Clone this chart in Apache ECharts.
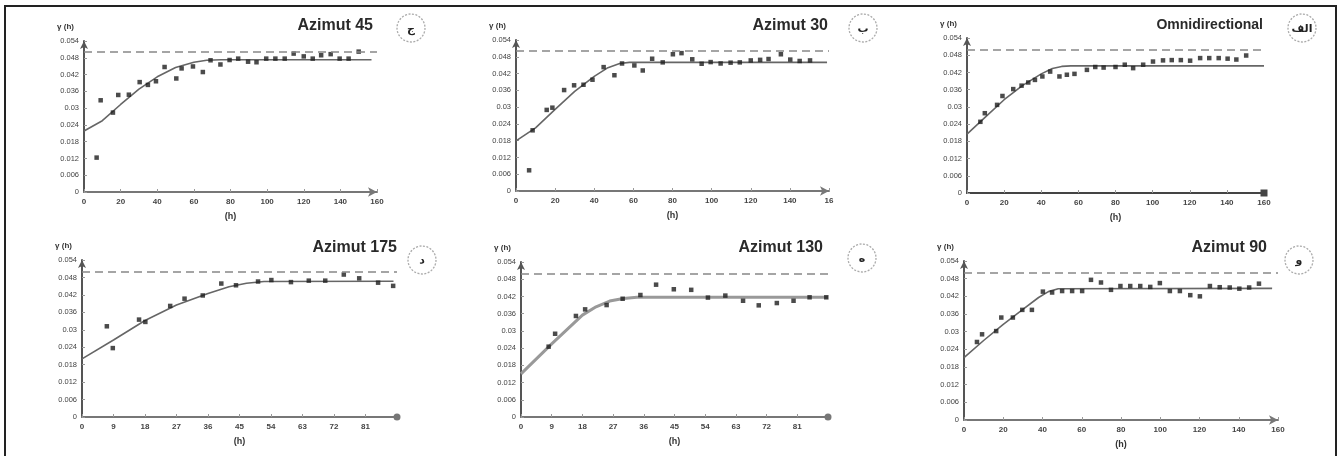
<!DOCTYPE html>
<html><head><meta charset="utf-8">
<script src="https://cdn.jsdelivr.net/npm/echarts@6/dist/echarts.min.js"></script>
<style>html,body{margin:0;padding:0;background:#fff}#c{width:1339px;height:456px}</style>
</head><body><div id="c"></div>
<script>
// ---------- DATA ----------
const panelTitles = ['Azimut 45', 'Azimut 30', 'Omnidirectional', 'Azimut 175', 'Azimut 130', 'Azimut 90'];
const panelLetters = ['ج', 'ب', 'الف', 'د', 'ه', 'و'];
const sillValue = 0.054;
const yTickStep = 0.006;
const xMaxes = [160, 160, 160, 90, 90, 160];
const xSteps = [20, 20, 20, 9, 9, 20];
const xLabelsAz45 = ['0', '20', '40', '60', '80', '100', '120', '140', '160'];
const xLabelsAz30 = ['0', '20', '40', '60', '80', '100', '120', '140', '16'];
const xLabelsOmni = ['0', '20', '40', '60', '80', '100', '120', '140', '160'];
const xLabelsAz175 = ['0', '9', '18', '27', '36', '45', '54', '63', '72', '81', ''];
const xLabelsAz130 = ['0', '9', '18', '27', '36', '45', '54', '63', '72', '81', ''];
const xLabelsAz90 = ['0', '20', '40', '60', '80', '100', '120', '140', '160'];
const yAxisName = 'γ (h)';
const xAxisName = '(h)';

// experimental variogram points [lag h, gamma]
const pointsAz45 = [[6.9,0.0123],[9.1,0.0328],[15.8,0.0284],[18.7,0.0347],[24.5,0.0348],[30.4,0.0393],[34.9,0.0383],[39.3,0.0396],[44,0.0447],[50.4,0.0406],[53.3,0.0442],[59.5,0.0449],[64.9,0.0429],[69.1,0.0471],[74.5,0.0456],[79.5,0.0472],[84.2,0.0477],[89.6,0.0466],[94.2,0.0464],[99.5,0.0477],[104.5,0.0477],[109.6,0.0477],[114.5,0.0495],[120,0.0485],[124.9,0.0477],[129.5,0.0489],[134.7,0.0493],[139.6,0.0477],[144.5,0.0477],[150,0.0502]];
const pointsAz30 = [[6.7,0.0074],[8.5,0.0217],[15.7,0.029],[18.6,0.0298],[24.6,0.0361],[29.7,0.0378],[34.5,0.038],[39.1,0.0398],[44.8,0.0443],[50.3,0.0414],[54.2,0.0456],[60.5,0.0449],[64.8,0.0431],[69.6,0.0473],[75,0.046],[80.2,0.0489],[84.6,0.0493],[90.1,0.0471],[94.9,0.0455],[99.5,0.0461],[104.6,0.0456],[109.7,0.0459],[114.4,0.046],[120,0.0467],[124.8,0.0469],[129.1,0.0472],[135.4,0.0489],[140.2,0.047],[145,0.0465],[150.3,0.0467]];
const pointsOmni = [[7.2,0.0248],[9.6,0.0278],[16.2,0.0307],[19.1,0.0338],[24.9,0.0362],[29.4,0.0374],[33,0.0385],[36.6,0.0394],[40.6,0.0406],[44.8,0.0423],[49.8,0.0406],[53.8,0.0412],[57.9,0.0415],[64.6,0.0429],[69.1,0.0439],[73.6,0.0437],[80,0.0439],[85,0.0447],[89.5,0.0435],[94.9,0.0447],[100.2,0.0458],[105.6,0.0462],[110.3,0.0463],[115.2,0.0463],[120.2,0.0461],[125.6,0.047],[130.5,0.047],[135.6,0.047],[140.4,0.0468],[145.1,0.0465],[150.4,0.0479]];
const pointsAz175 = [[7.1,0.0312],[8.8,0.0237],[16.3,0.0335],[18.1,0.0327],[25.2,0.0382],[29.3,0.0407],[34.5,0.0418],[39.8,0.0459],[44,0.0453],[50.3,0.0466],[54.1,0.0471],[59.7,0.0464],[64.8,0.0469],[69.5,0.0469],[74.8,0.049],[79.2,0.0477],[84.6,0.0462],[88.9,0.0451]];
const pointsAz130 = [[8.1,0.0245],[10,0.029],[16.1,0.0352],[18.8,0.0375],[25.1,0.039],[29.8,0.0412],[35,0.0425],[39.6,0.0461],[44.8,0.0445],[49.9,0.0443],[54.8,0.0416],[59.9,0.0423],[65.1,0.0405],[69.7,0.0389],[75,0.0397],[79.9,0.0405],[84.6,0.0417],[89.5,0.0417]];
const pointsAz90 = [[6.6,0.0265],[9.2,0.0291],[16.4,0.0302],[19,0.0348],[24.9,0.0348],[29.7,0.0374],[34.6,0.0374],[40.2,0.0436],[44.9,0.0433],[50,0.0438],[55.1,0.0438],[60.2,0.0438],[64.7,0.0476],[69.8,0.0467],[74.9,0.0442],[79.7,0.0455],[84.7,0.0455],[89.8,0.0455],[94.9,0.0452],[99.8,0.0465],[104.9,0.0438],[110,0.0438],[115.3,0.0424],[120.2,0.042],[125.3,0.0455],[130.3,0.0451],[135.4,0.045],[140.3,0.0446],[145.3,0.045],[150.3,0.0463]];

// fitted model curves [lag h, gamma]
const modelAz45 = [[0,0.0218],[10,0.0255],[20,0.0313],[30,0.0368],[40,0.0412],[50,0.0445],[60,0.0464],[67,0.0471],[75,0.0473],[157,0.0473]];
const modelAz30 = [[0,0.0179],[10,0.0226],[20,0.0292],[30,0.0356],[40,0.041],[47,0.0441],[53,0.0456],[58,0.046],[159,0.046]];
const modelOmni = [[0,0.0205],[10,0.0265],[20,0.0325],[30,0.0375],[40,0.0415],[46,0.0434],[51,0.0441],[56,0.0443],[160,0.0443]];
const modelAz175 = [[0,0.02],[9,0.0265],[18,0.0332],[27,0.0385],[36,0.0425],[42,0.0448],[47,0.046],[52,0.0466],[89,0.0467]];
const modelAz130 = [[0,0.015],[9,0.0255],[18,0.0355],[22,0.0384],[26,0.0404],[30,0.0413],[34,0.0417],[90,0.0417]];
const modelAz90 = [[0,0.0212],[10,0.027],[20,0.0325],[30,0.0376],[38,0.0416],[43,0.0436],[48,0.0446],[157,0.0447]];

const allPoints = [pointsAz45, pointsAz30, pointsOmni, pointsAz175, pointsAz130, pointsAz90];
const allModels = [modelAz45, modelAz30, modelOmni, modelAz175, modelAz130, modelAz90];
const allXLabels = [xLabelsAz45, xLabelsAz30, xLabelsOmni, xLabelsAz175, xLabelsAz130, xLabelsAz90];

// ---------- LAYOUT ----------
const gridBoxes = [
  {left: 84, top: 41, width: 293, height: 151},
  {left: 516, top: 40, width: 313, height: 151},
  {left: 967, top: 38, width: 297, height: 155},
  {left: 82, top: 260, width: 315, height: 157},
  {left: 521, top: 262, width: 307, height: 155},
  {left: 964, top: 261, width: 314, height: 159}
];
const endSymbols = ['arrow', 'arrow', 'rect', 'circle', 'circle', 'arrow'];
const titlePos = [[373, 26], [828, 26], [1263, 25], [397, 248], [823, 248], [1267, 248]];
const titleSizes = [16, 16, 14, 16, 16, 16];
const circlePos = [[411, 28], [863, 28], [1302, 28], [422, 260], [862, 258], [1299, 260]];

const FONT = 'Liberation Sans, Arial, sans-serif';
const grids = [], xAxes = [], yAxes = [], series = [], graphics = [];

gridBoxes.forEach((g, i) => {
  grids.push(Object.assign({}, g));
  const labels = allXLabels[i];
  xAxes.push({
    type: 'value', gridIndex: i, min: 0, max: xMaxes[i], interval: xSteps[i],
    name: xAxisName, nameLocation: 'middle', nameGap: 20,
    nameTextStyle: {fontFamily: FONT, fontSize: 9, fontWeight: 'bold', color: '#333'},
    axisLine: {show: true, symbol: ['none', endSymbols[i]], symbolSize: endSymbols[i] === 'arrow' ? [7, 9] : [7, 7],
      lineStyle: {color: i === 2 ? '#444' : '#777', width: 2}},
    axisTick: {show: true, inside: true, length: 3, lineStyle: {color: '#999'}},
    axisLabel: {fontFamily: FONT, fontSize: 8, fontWeight: 'bold', color: '#444', margin: 6,
      formatter: v => { const k = Math.round(v / xSteps[i]); return labels[k] !== undefined ? labels[k] : ''; }},
    splitLine: {show: false}
  });
  yAxes.push({
    type: 'value', gridIndex: i, min: 0, max: sillValue, interval: yTickStep,
    name: yAxisName, nameLocation: 'end', nameGap: 10,
    nameTextStyle: {fontFamily: FONT, fontSize: 8, fontWeight: 'bold', color: '#333', align: 'right', padding: [0, 10, 0, 0]},
    axisLine: {show: true, symbol: ['none', 'arrow'], symbolSize: [6, 8], lineStyle: {color: '#555', width: 2}},
    axisTick: {show: true, inside: true, length: 3, lineStyle: {color: '#999'}},
    axisLabel: {fontFamily: FONT, fontSize: 7.5, color: '#444', margin: 5,
      formatter: v => String(+v.toFixed(3))},
    splitLine: {show: false}
  });
  series.push({
    type: 'line', xAxisIndex: i, yAxisIndex: i, data: allModels[i], showSymbol: false,
    smooth: false,
    lineStyle: {color: i === 4 ? '#999' : '#666', width: i === 4 ? 3 : 1.6},
    markLine: {silent: true, symbol: 'none', label: {show: false},
      lineStyle: {type: [8, 5], color: '#888', width: 1.6},
      data: [{yAxis: sillValue}]},
    z: 2
  });
  series.push({
    type: 'scatter', xAxisIndex: i, yAxisIndex: i, data: allPoints[i],
    symbol: 'rect', symbolSize: 4.5, itemStyle: {color: '#1e1e1e'}, z: 3
  });
  graphics.push({
    type: 'text', x: titlePos[i][0], y: titlePos[i][1],
    style: {text: panelTitles[i], fontFamily: FONT, fontSize: titleSizes[i], fontWeight: 'bold',
      fill: '#2a2a2a', align: 'right', verticalAlign: 'middle'}
  });
  graphics.push({
    type: 'circle', shape: {cx: circlePos[i][0], cy: circlePos[i][1], r: 14},
    style: {fill: '#fff', stroke: '#aaa', lineWidth: 1.3, lineDash: [2, 1.5]}
  });
  graphics.push({
    type: 'text', x: circlePos[i][0], y: circlePos[i][1] + 1,
    style: {text: panelLetters[i], fontFamily: 'DejaVu Sans, sans-serif', fontSize: 11, fontWeight: 'bold',
      fill: '#222', align: 'center', verticalAlign: 'middle'}
  });
});

graphics.push({
  type: 'rect', shape: {x: 5, y: 6, width: 1331, height: 460},
  style: {fill: 'none', stroke: '#222', lineWidth: 2}, silent: true
});

const chart = echarts.init(document.getElementById('c'), null, {renderer: 'canvas'});
chart.setOption({
  animation: false,
  backgroundColor: '#fff',
  grid: grids, xAxis: xAxes, yAxis: yAxes, series: series, graphic: graphics
});
</script>
</body></html>
